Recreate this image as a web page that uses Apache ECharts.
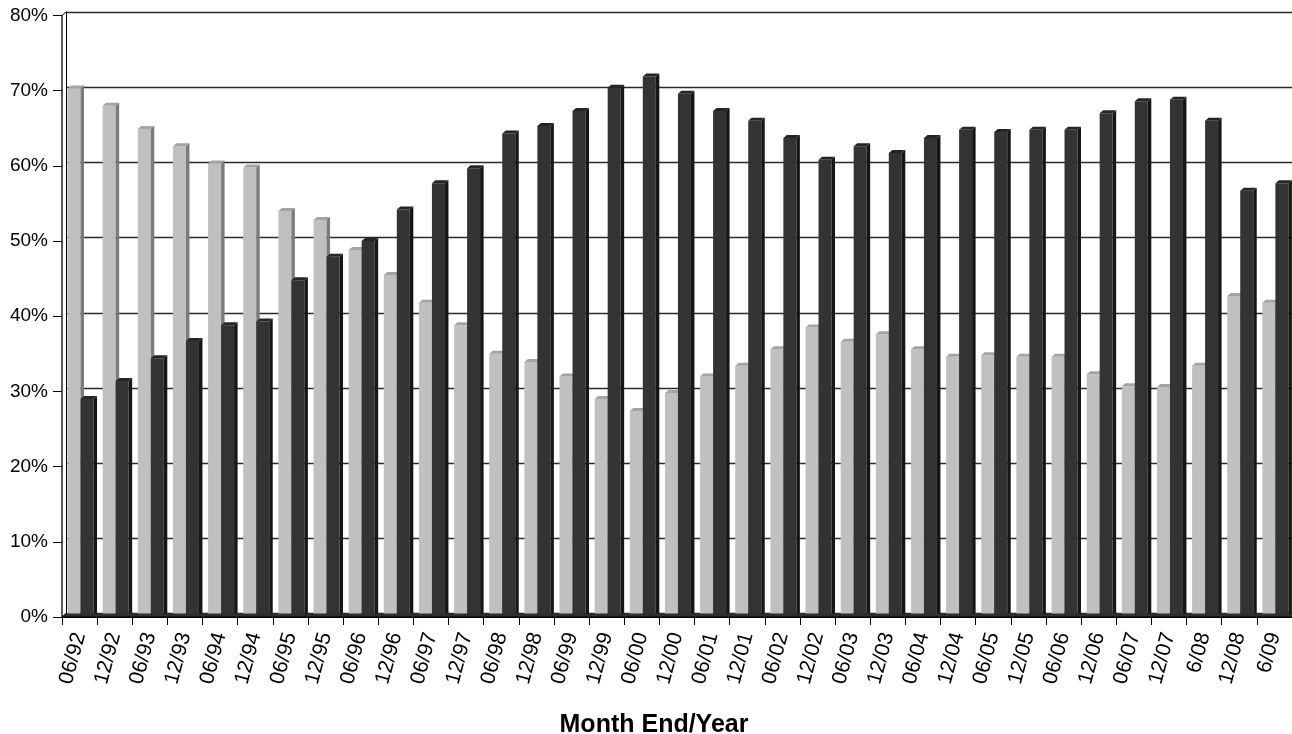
<!DOCTYPE html>
<html>
<head>
<meta charset="utf-8">
<script src="https://cdn.jsdelivr.net/npm/echarts@6/dist/echarts.min.js"></script>
<style>
  html, body { margin: 0; padding: 0; background: #fff; }
  #chart { width: 1292px; height: 734px; }
</style>
</head>
<body>
<div id="chart"></div>
<script>
// Period labels (month end / year)
const categories = ['06/92','12/92','06/93','12/93','06/94','12/94','06/95','12/95','06/96','12/96',
  '06/97','12/97','06/98','12/98','06/99','12/99','06/00','12/00','06/01','12/01',
  '06/02','12/02','06/03','12/03','06/04','12/04','06/05','12/05','06/06','12/06',
  '06/07','12/07','6/08','12/08','6/09'];

// Share (%) – light series
const lightValues = [70.3, 68.0, 64.9, 62.6, 60.3, 59.8, 54.0, 52.8, 48.8, 45.5,
  41.8, 38.8, 35.0, 33.9, 32.0, 29.0, 27.4, 29.8, 32.0, 33.4,
  35.6, 38.5, 36.6, 37.6, 35.6, 34.6, 34.8, 34.6, 34.6, 32.3,
  30.7, 30.6, 33.4, 42.7, 41.8];

// Share (%) – dark series
const darkValues = [29.0, 31.4, 34.4, 36.7, 38.8, 39.3, 44.8, 47.9, 50.0, 54.2,
  57.7, 59.7, 64.3, 65.3, 67.3, 70.4, 71.9, 69.6, 67.3, 66.0,
  63.7, 60.8, 62.6, 61.7, 63.7, 64.8, 64.5, 64.8, 64.8, 67.0,
  68.6, 68.8, 66.0, 56.7, 57.7];

const yTicks = { min: 0, max: 80, interval: 10 };

const DX = 4, DY = 3.5;      // depth offset of the back wall
const BX = 3.5, BY = 3;      // depth of a column (top / side faces)

function columnRenderer(offsetFrac, widthFrac, colors) {
  return function (params, api) {
    const i = api.value(0);
    const v = api.value(1);
    const base = api.coord([i, 0]);
    const top = api.coord([i, v]);
    const bw = api.size([1, 0])[0];
    const x0 = base[0] - bw / 2 + offsetFrac * bw;
    const w = widthFrac * bw;
    const yT = top[1], yB = base[1];
    return {
      type: 'group',
      children: [
        { type: 'rect', shape: { x: x0, y: yT, width: w, height: yB - yT },
          style: { fill: colors.front } },
        { type: 'polygon', shape: { points: [[x0, yT], [x0 + BX, yT - BY], [x0 + w + BX, yT - BY], [x0 + w, yT]] },
          style: { fill: colors.top } },
        { type: 'polygon', shape: { points: [[x0 + w, yT], [x0 + w + BX, yT - BY], [x0 + w + BX, yB - BY], [x0 + w, yB]] },
          style: { fill: colors.side } }
      ]
    };
  };
}

// floor strip and left wall edge of the 3D frame
function frameRenderer(params) {
  const cs = params.coordSys;
  const x = cs.x, y = cs.y, w = cs.width, h = cs.height;
  const yb = y + h;
  return {
    type: 'group',
    children: [
      { type: 'polygon', shape: { points: [[x, yb], [x + DX, yb - DY], [x + w + DX, yb - DY], [x + w, yb]] },
        style: { fill: '#2e2e2e' } },
      { type: 'line', shape: { x1: x, y1: yb, x2: x + w, y2: yb }, style: { stroke: '#000', lineWidth: 1.2 } },
      { type: 'line', shape: { x1: x, y1: y, x2: x + DX, y2: y - DY }, style: { stroke: '#000', lineWidth: 1 } },
      { type: 'line', shape: { x1: x, y1: yb, x2: x + DX, y2: yb - DY }, style: { stroke: '#000', lineWidth: 1 } }
    ]
  };
}

const labelFont = 'Liberation Sans, Arial, sans-serif';

const option = {
  animation: false,
  backgroundColor: '#ffffff',
  title: {
    text: 'Month End/Year',
    left: 649, top: 708, textAlign: 'center',
    textStyle: { fontFamily: labelFont, fontSize: 25, fontWeight: 'bold', color: '#000' }
  },
  grid: [
    { left: 62, right: 0, top: 15.5, bottom: 117 },
    { left: 62 + DX, right: -DX, top: 15.5 - DY, bottom: 117 + DY }
  ],
  xAxis: [
    {
      type: 'category', gridIndex: 0, data: categories, boundaryGap: true,
      axisLine: { show: true, lineStyle: { color: '#000', width: 1 } },
      axisTick: { show: true, interval: 0, length: 8, lineStyle: { color: '#000' } },
      axisLabel: { interval: 0, rotate: 75, margin: 16, fontFamily: labelFont, fontSize: 21, color: '#000' },
      splitLine: { show: false }
    },
    {
      type: 'category', gridIndex: 1, data: categories, show: false
    }
  ],
  yAxis: [
    {
      type: 'value', gridIndex: 0, min: yTicks.min, max: yTicks.max, interval: yTicks.interval,
      axisLine: { show: true, lineStyle: { color: '#222', width: 1.5 } },
      axisTick: { show: true, length: 9, lineStyle: { color: '#000' } },
      axisLabel: { margin: 14, formatter: '{value}%', fontFamily: labelFont, fontSize: 19, color: '#000' },
      splitLine: { show: false }
    },
    {
      type: 'value', gridIndex: 1, min: yTicks.min, max: yTicks.max, interval: yTicks.interval,
      axisLine: { show: true, lineStyle: { color: '#000', width: 1 } },
      axisTick: { show: false },
      axisLabel: { show: false },
      splitLine: { show: true, lineStyle: { color: '#2a2a2a', width: 1.3 } }
    }
  ],
  series: [
    {
      type: 'custom', name: 'Light', xAxisIndex: 0, yAxisIndex: 0, z: 3,
      renderItem: columnRenderer(0.157, 0.37, { front: '#c0c0c0', top: '#a3a3a3', side: '#7c7c7c' }),
      encode: { x: 0, y: 1 },
      data: lightValues.map((v, i) => [i, v])
    },
    {
      type: 'custom', name: 'Dark', xAxisIndex: 0, yAxisIndex: 0, z: 4,
      renderItem: columnRenderer(0.527, 0.37, { front: '#333333', top: '#252525', side: '#161616' }),
      encode: { x: 0, y: 1 },
      data: darkValues.map((v, i) => [i, v])
    },
    {
      type: 'custom', name: 'frame', xAxisIndex: 0, yAxisIndex: 0, z: 5, silent: true,
      renderItem: frameRenderer,
      data: [[0, 0]]
    }
  ]
};

const chart = echarts.init(document.getElementById('chart'), null, { renderer: 'canvas' });
chart.setOption(option);
</script>
</body>
</html>
